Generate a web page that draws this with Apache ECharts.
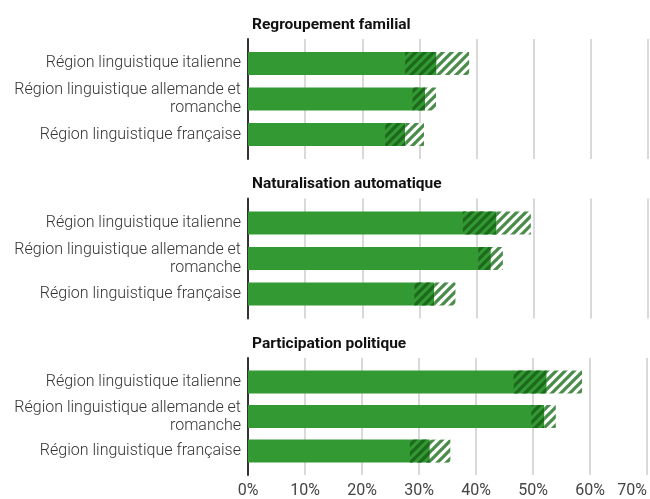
<!DOCTYPE html>
<html>
<head>
<meta charset="utf-8">
<script src="https://cdn.jsdelivr.net/npm/echarts@6/dist/echarts.min.js"></script>
<style>
  html, body { margin: 0; padding: 0; background: #fff; }
  #chart { width: 650px; height: 499px; }
</style>
</head>
<body>
<div id="chart"></div>
<script>
// catégories et panneaux
const categories = ['Région linguistique italienne', 'Région linguistique allemande et\nromanche', 'Région linguistique française']
const panelTitles = ['Regroupement familial', 'Naturalisation automatique', 'Participation politique']
const xTicks = [0, 10, 20, 30, 40, 50, 60, 70]

// valeurs (%) : estimation, borne basse, borne haute
const familleValues = [33.0, 31.0, 27.5]
const familleLow = [27.5, 28.8, 24.0]
const familleHigh = [38.7, 32.9, 30.8]

const naturalisationValues = [43.5, 42.5, 32.6]
const naturalisationLow = [37.6, 40.3, 29.1]
const naturalisationHigh = [49.5, 44.6, 36.3]

const politiqueValues = [52.4, 52.0, 31.9]
const politiqueLow = [46.6, 49.7, 28.4]
const politiqueHigh = [58.6, 54.0, 35.5]

const panelData = [
    [familleValues, familleLow, familleHigh],
    [naturalisationValues, naturalisationLow, naturalisationHigh],
    [politiqueValues, politiqueLow, politiqueHigh]
]

const GREEN = '#339933'
const FONT = 'Roboto, "Noto Sans", sans-serif'

// motif hachuré "/"
function makeStripes(color, bg) {
    let size = 9
    let c = document.createElement('canvas')
    c.width = size
    c.height = size
    let ctx = c.getContext('2d')
    if (bg) {
        ctx.fillStyle = bg
        ctx.fillRect(0, 0, size, size)
    }
    ctx.strokeStyle = color
    ctx.lineWidth = 3.3
    ctx.beginPath()
    ctx.moveTo(0, size); ctx.lineTo(size, 0)
    ctx.moveTo(-size / 2, size / 2); ctx.lineTo(size / 2, -size / 2)
    ctx.moveTo(size / 2, size * 1.5); ctx.lineTo(size * 1.5, size / 2)
    ctx.stroke()
    return c
}
const darkStripes = makeStripes('#1d6a1d', null)
const lightStripes = makeStripes('#4a8d4a', '#ffffff')

function renderItem(params, api) {
    let idx = api.value(1)
    let p0 = api.coord([0, idx])
    let pv = api.coord([api.value(0), idx])
    let pl = api.coord([api.value(2), idx])
    let ph = api.coord([api.value(3), idx])
    let h = 23
    let y = p0[1] - h / 2
    return {
        type: 'group',
        children: [
            { type: 'rect', shape: { x: p0[0], y: y, width: pv[0] - p0[0], height: h }, style: { fill: GREEN } },
            { type: 'rect', shape: { x: pl[0], y: y, width: pv[0] - pl[0], height: h }, style: { fill: { image: darkStripes, repeat: 'repeat' } } },
            { type: 'rect', shape: { x: pv[0], y: y, width: ph[0] - pv[0], height: h }, style: { fill: { image: lightStripes, repeat: 'repeat' } } }
        ]
    }
}

const gridTop = [39, 198.5, 358]
let grids = [], xAxes = [], yAxes = [], series = [], titles = []

panelTitles.forEach((name, i) => {
    grids.push({ left: 248, right: 2, top: gridTop[i], height: 120 })
    titles.push({
        text: name,
        left: 247,
        top: gridTop[i] - 27,
        textStyle: { fontFamily: FONT, fontSize: 15.5, fontWeight: 'bold', color: '#111' }
    })
    xAxes.push({
        type: 'value',
        gridIndex: i,
        min: 0,
        max: 70,
        interval: 10,
        axisLine: { show: false },
        axisTick: { show: false },
        splitLine: { lineStyle: { color: '#d9d9d9', width: 2 } },
        axisLabel: {
            show: i === 2,
            customValues: xTicks,
            formatter: v => v + '%',
            alignMaxLabel: 'right',
            margin: 8,
            fontFamily: FONT,
            fontSize: 16,
            color: '#444'
        }
    })
    yAxes.push({
        type: 'value',
        gridIndex: i,
        inverse: true,
        min: -0.69,
        max: 2.69,
        axisLine: { show: true, lineStyle: { color: '#333', width: 2 } },
        axisTick: { show: false },
        splitLine: { show: false },
        axisLabel: {
            customValues: [0, 1, 2],
            formatter: v => categories[v],
            margin: 7,
            fontFamily: FONT,
            fontSize: 16,
            fontWeight: 300,
            lineHeight: 18,
            color: '#333'
        }
    })
    let [vals, lows, highs] = panelData[i]
    series.push({
        type: 'custom',
        xAxisIndex: i,
        yAxisIndex: i,
        renderItem: renderItem,
        encode: { x: [0, 2, 3], y: 1 },
        data: vals.map((v, k) => [v, k, lows[k], highs[k]])
    })
})

let myChart = echarts.init(document.getElementById('chart'))
myChart.setOption({
    animation: false,
    title: titles,
    grid: grids,
    xAxis: xAxes,
    yAxis: yAxes,
    series: series
})
</script>
</body>
</html>
